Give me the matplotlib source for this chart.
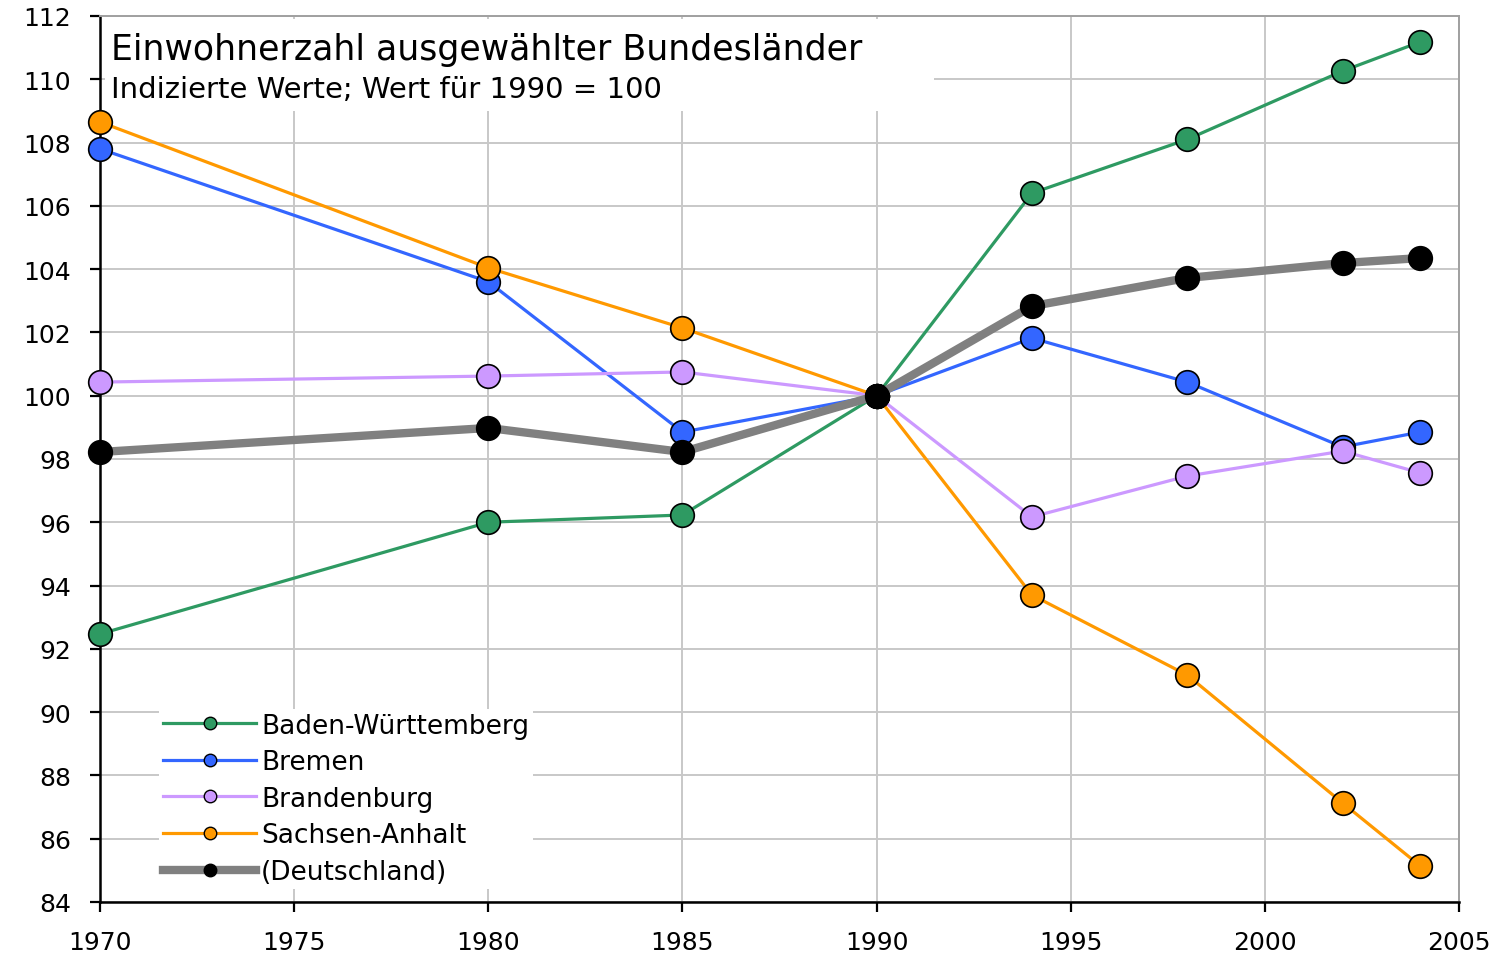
import matplotlib.pyplot as plt
from matplotlib.lines import Line2D
from matplotlib.patches import Rectangle

years = [1970, 1980, 1985, 1990, 1994, 1998, 2002, 2004]

baden_wuerttemberg = [92.47, 96.0, 96.23, 100.0, 106.4, 108.1, 110.26, 111.18]
bremen = [107.8, 103.6, 98.85, 100.0, 101.82, 100.43, 98.38, 98.85]
brandenburg = [100.43, 100.62, 100.75, 100.0, 96.17, 97.46, 98.25, 97.56]
sachsen_anhalt = [108.65, 104.04, 102.14, 100.0, 93.7, 91.17, 87.13, 85.14]
deutschland = [98.22, 98.98, 98.22, 100.0, 102.83, 103.72, 104.19, 104.35]

labels = ["Baden-Württemberg", "Bremen", "Brandenburg", "Sachsen-Anhalt", "(Deutschland)"]
colors = ["#2e9a62", "#3366ff", "#cc99ff", "#ff9900", "#808080"]

title = "Einwohnerzahl ausgewählter Bundesländer"
subtitle = "Indizierte Werte; Wert für 1990 = 100"

fig = plt.figure(figsize=(15.09, 9.54), dpi=100)
ax = fig.add_axes([0.0663, 0.0535, 0.9006, 0.9287])

series = [baden_wuerttemberg, bremen, brandenburg, sachsen_anhalt, deutschland]
handles = []
for vals, lab, col in zip(series, labels, colors):
    if lab == "(Deutschland)":
        lw, mfc = 6, "black"
    else:
        lw, mfc = 2.3, col
    ax.plot(years, vals, color=col, lw=lw, marker="o", ms=17, mfc=mfc,
            mec="black", mew=1.2, clip_on=False, zorder=3)
    handles.append(Line2D([], [], color=col, lw=lw, marker="o", ms=9,
                          mfc=mfc, mec="black", mew=1.0))

ax.set_xlim(1970, 2005)
ax.set_ylim(84, 112)
ax.set_xticks(range(1970, 2006, 5))
ax.set_yticks(range(84, 113, 2))
ax.grid(True, color="#c8c8c8", lw=1.4, zorder=0)
ax.set_axisbelow(True)

for s in ["top", "right"]:
    ax.spines[s].set_color("#a0a0a0")
    ax.spines[s].set_linewidth(1.4)
for s in ["left", "bottom"]:
    ax.spines[s].set_color("black")
    ax.spines[s].set_linewidth(1.8)
ax.tick_params(axis="both", direction="out", length=7, width=1.6, labelsize=18)
ax.tick_params(axis="y", pad=14)
ax.tick_params(axis="x", pad=13)

# white box behind the title
ax.add_patch(Rectangle((0.004, 0.893), 0.61, 0.104, transform=ax.transAxes,
                       facecolor="white", edgecolor="none", zorder=1))
ax.text(0.008, 0.963, title, transform=ax.transAxes, fontsize=25,
        va="center", ha="left", zorder=2)
ax.text(0.008, 0.918, subtitle, transform=ax.transAxes, fontsize=21,
        va="center", ha="left", zorder=2)

leg = ax.legend(handles, labels, loc="lower left", bbox_to_anchor=(0.034, 0.0),
                fontsize=19, frameon=True, facecolor="white", edgecolor="none",
                framealpha=1, handlelength=3.5, handletextpad=0.2,
                labelspacing=0.4, borderpad=0.15, fancybox=False)
leg.set_zorder(2)

fig.savefig("out.png", dpi=100)
